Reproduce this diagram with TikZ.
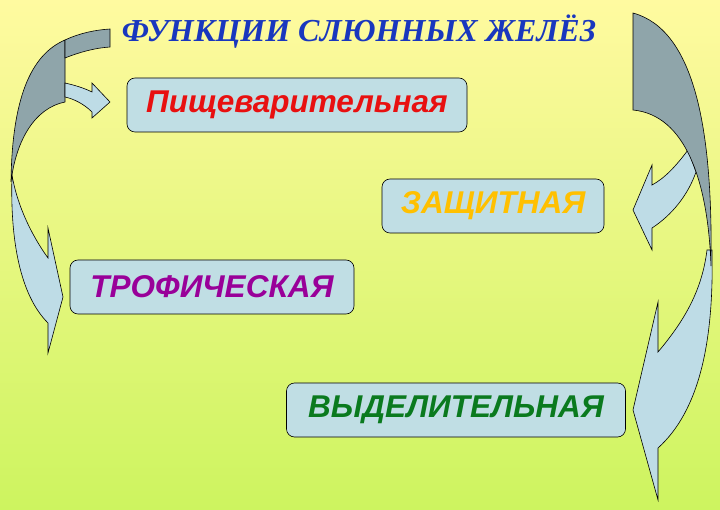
\documentclass[tikz,border=0pt]{standalone}
\usepackage{fontspec}
\setmainfont{Liberation Serif}
\setsansfont{Liberation Sans}

\definecolor{bgtop}{RGB}{255,250,160}
\definecolor{bgmid}{RGB}{238,248,125}
\definecolor{bgbot}{RGB}{205,244,95}
\definecolor{boxblue}{RGB}{192,222,228}
\definecolor{darkarrow}{RGB}{143,165,170}
\definecolor{lightarrow}{RGB}{190,220,230}
\definecolor{titleblue}{RGB}{25,55,190}
\definecolor{redtext}{RGB}{232,16,16}
\definecolor{orangetext}{RGB}{255,192,0}
\definecolor{purpletext}{RGB}{153,0,153}
\definecolor{greentext}{RGB}{10,122,30}

\tikzset{
  darkpart/.style={fill=darkarrow,draw=black,line width=.6pt},
  lightpart/.style={fill=lightarrow,draw=black,line width=.6pt}
}

\begin{document}
\begin{tikzpicture}[x=1pt,y=-1pt]

        \shade[top color=bgtop,middle color=bgmid,bottom color=bgbot] (0,0) rectangle (720,510);

        % left arrow
        \path[lightpart] (12,175) .. controls (10,240) and (20,295) .. (48,323) -- (48,353) -- (63,297)
          -- (48,228) -- (48,258) .. controls (35,240) and (18,210) .. (12,175) -- cycle;
        \path[darkpart] (65,40) .. controls (30,55) and (12,100) .. (11,182)
          .. controls (16,140) and (35,108) .. (65,102) -- cycle;
        \path[darkpart] (65,40) .. controls (80,33) and (95,30) .. (110,29) -- (110,47)
          .. controls (95,48) and (80,52) .. (65,58) -- cycle;
        \path[lightpart] (65,83) .. controls (74,85) and (84,88) .. (92,92) -- (92,83) -- (110,102)
          -- (92,118) -- (92,112) .. controls (84,104) and (74,99) .. (65,97) -- cycle;

        % right arrow
        \path[lightpart] (712,250) .. controls (714,340) and (700,410) .. (658,448) -- (658,500) -- (633,410)
          -- (658,302) -- (658,352) .. controls (685,320) and (702,290) .. (707,250) -- cycle;
        \path[lightpart] (688,150) .. controls (676,166) and (665,178) .. (652,185) -- (652,165) -- (633,210)
          -- (652,250) -- (652,228) .. controls (672,215) and (688,195) .. (696,172) -- cycle;
        \path[darkpart] (633,13) .. controls (695,30) and (713,130) .. (711,266)
          .. controls (708,180) and (685,115) .. (633,110) -- cycle;

        \node (0) at (359,32) {\fontsize{32}{38}\selectfont\bfseries\itshape\color{titleblue}ФУНКЦИИ СЛЮННЫХ ЖЕЛЁЗ};

        \begin{scope}[every node/.style={draw=black,line width=.6pt,rounded corners=8pt,fill=boxblue,
            minimum height=54pt,inner sep=0pt,font=\fontsize{31.5}{38}\selectfont\sffamily\bfseries\itshape}]
          \node[minimum width=340pt,text=redtext]    (1) at (297,105) {Пищеварительная};
          \node[minimum width=222pt,text=orangetext] (2) at (493,206) {ЗАЩИТНАЯ};
          \node[minimum width=284pt,text=purpletext] (3) at (212,287) {ТРОФИЧЕСКАЯ};
          \node[minimum width=339pt,text=greentext]  (4) at (456,410) {ВЫДЕЛИТЕЛЬНАЯ};
        \end{scope}

      \end{tikzpicture}
\end{document}
